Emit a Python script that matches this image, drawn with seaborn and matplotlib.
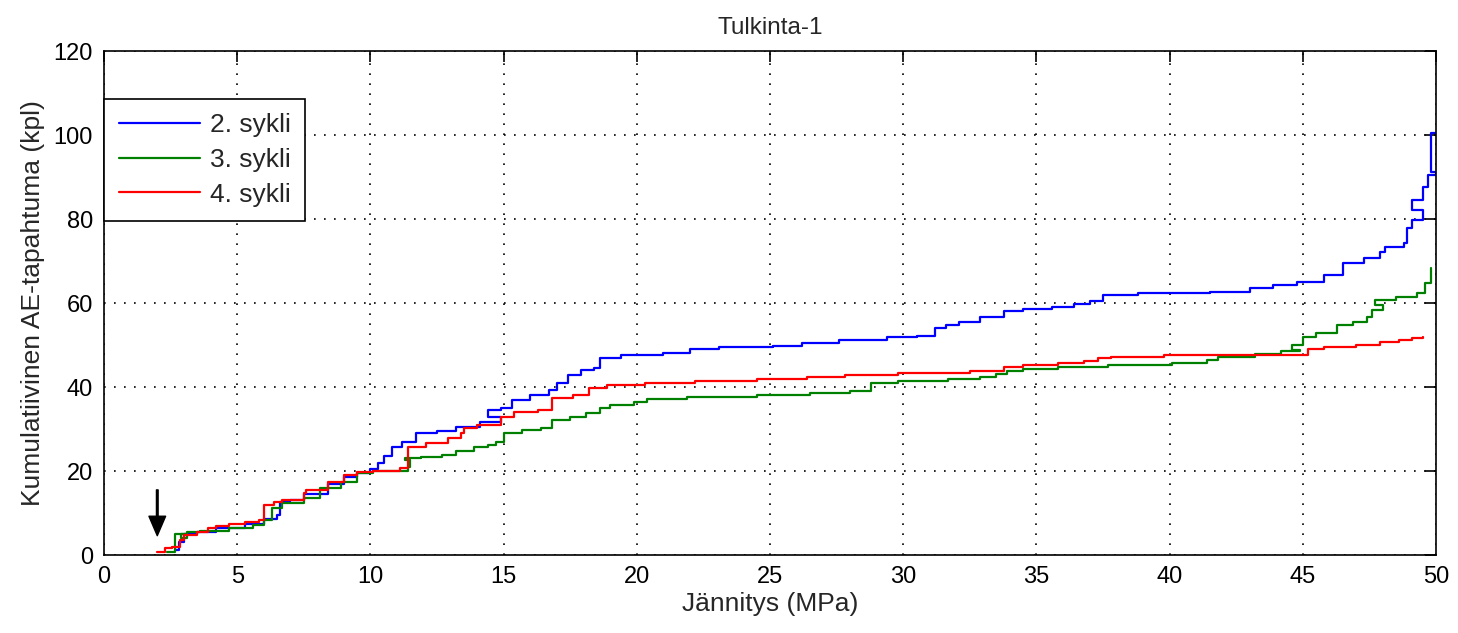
import numpy as np
import pandas as pd
import matplotlib
matplotlib.use("Agg")
import matplotlib.pyplot as plt
import seaborn as sns

# --- Data (stress MPa, cumulative AE count) ---
series_names = ["2. sykli", "3. sykli", "4. sykli"]
series_colors = ["#0000ff", "#008000", "#ff0000"]

sykli2_x = [2.67, 2.8, 3.0, 3.5, 4.2, 5.3, 6.0, 6.5, 6.6, 7.0, 7.5, 8.4, 9.0, 9.5, 10.0,
            10.3, 10.5, 10.8, 11.2, 11.7, 12.5, 13.2, 14.1, 14.9, 14.4, 14.4, 14.9, 15.3,
            16.0, 16.7, 17.0, 17.4, 17.9, 18.4, 18.6, 19.4, 21.0, 22.0, 23.1, 25.1, 26.2,
            27.6, 29.4, 30.5, 31.2, 31.6, 32.1, 32.9, 33.8, 34.5, 35.6, 36.4, 37.0, 37.5,
            38.8, 41.5, 43.0, 43.9, 44.8, 45.8, 46.5, 47.3, 47.9, 48.1, 48.8, 48.9, 49.1,
            49.5, 49.1, 49.5, 49.7, 50.0, 49.8, 49.8, 50.0]
sykli2_y = [1.2, 3.0, 5.0, 5.5, 6.4, 7.4, 8.6, 9.5, 12.6, 13.1, 14.5, 17.0, 18.5, 19.5, 20.5,
            22.0, 23.5, 25.7, 27.0, 29.0, 29.5, 30.5, 31.7, 32.9, 33.3, 34.5, 35.0, 37.0,
            38.0, 39.3, 41.0, 42.9, 44.0, 44.5, 47.0, 47.6, 48.1, 49.0, 49.5, 49.8, 50.5,
            51.2, 51.9, 52.1, 54.0, 54.8, 55.5, 56.7, 58.1, 58.5, 59.0, 59.8, 60.5, 62.0,
            62.4, 62.6, 63.5, 64.3, 65.0, 66.7, 69.5, 70.7, 72.1, 73.3, 74.3, 77.9, 79.8,
            82.1, 84.5, 87.6, 90.5, 91.2, 91.7, 100.5, 100.5]

sykli3_x = [2.36, 2.67, 2.67, 3.1, 2.9, 3.1, 3.6, 4.7, 5.6, 6.0, 6.3, 6.7, 7.5, 8.1, 8.9,
            9.5, 10.1, 11.4, 11.5, 11.3, 11.9, 12.7, 13.2, 13.9, 14.4, 14.7, 15.0, 15.7,
            16.4, 16.8, 17.5, 18.1, 18.6, 19.0, 19.9, 20.4, 21.9, 24.5, 26.5, 28.0, 28.8,
            29.8, 31.7, 32.9, 33.5, 33.9, 34.5, 35.8, 37.7, 40.1, 41.4, 41.8, 43.2, 44.2,
            44.9, 44.6, 45.0, 45.5, 46.3, 46.9, 47.4, 47.6, 48.0, 47.7, 48.5, 49.3, 49.6,
            49.8, 49.8]
sykli3_y = [0.7, 2.4, 5.0, 5.0, 4.0, 5.5, 5.7, 6.4, 7.1, 8.3, 11.2, 12.4, 13.6, 16.0, 17.4,
            19.5, 20.0, 21.0, 22.7, 23.0, 23.3, 23.8, 24.8, 25.7, 26.2, 26.9, 29.0, 29.8,
            30.2, 32.1, 32.9, 33.7, 35.0, 35.7, 36.4, 37.1, 37.6, 38.1, 38.6, 39.0, 40.9,
            41.4, 41.9, 42.4, 43.1, 43.8, 44.3, 44.8, 45.2, 45.7, 46.4, 47.1, 47.9, 48.6,
            48.8, 50.0, 51.9, 52.8, 54.8, 55.5, 56.7, 58.3, 59.5, 60.7, 61.4, 62.4, 64.8,
            65.0, 68.3]

sykli4_x = [2.0, 2.3, 2.55, 2.85, 3.0, 3.5, 3.9, 4.2, 4.7, 5.3, 5.8, 6.0, 6.4, 6.7, 7.5,
            7.6, 8.4, 9.0, 9.5, 10.1, 11.1, 11.4, 12.1, 12.9, 13.4, 13.5, 14.0, 14.9, 15.4,
            16.3, 16.8, 17.6, 18.2, 18.9, 20.3, 22.2, 24.5, 26.4, 27.8, 29.8, 32.5, 33.8,
            34.5, 35.8, 36.8, 37.3, 37.8, 39.8, 45.2, 45.2, 45.8, 47.0, 47.9, 48.6, 49.1,
            49.5]
sykli4_y = [0.7, 1.7, 1.9, 3.6, 4.8, 5.5, 6.4, 6.9, 7.4, 7.9, 8.3, 11.9, 12.6, 13.1, 14.8,
            15.5, 17.4, 19.0, 19.8, 20.0, 20.7, 25.7, 26.7, 27.9, 29.0, 30.2, 31.0, 32.9,
            34.0, 34.5, 37.3, 38.1, 39.8, 40.5, 40.9, 41.4, 41.9, 42.4, 42.9, 43.3, 43.8,
            44.8, 45.2, 45.7, 46.2, 46.9, 47.1, 47.6, 48.1, 49.0, 49.5, 50.0, 50.7, 51.2,
            51.7, 51.9]

x_ticks = [0, 5, 10, 15, 20, 25, 30, 35, 40, 45, 50]
y_ticks = [0, 20, 40, 60, 80, 100, 120]
arrow_x = 2.0
arrow_from = 15.5
arrow_to = 4.6

# long format frame, keeping the drawing order (stress is not monotonic)
frames = []
for name, xs, ys in zip(series_names,
                        [sykli2_x, sykli3_x, sykli4_x],
                        [sykli2_y, sykli3_y, sykli4_y]):
    frames.append(pd.DataFrame({"x": xs, "y": ys, "sykli": name}))
df = pd.concat(frames, ignore_index=True)

sns.set_style("white")
plt.rcParams["font.family"] = ["Liberation Sans", "DejaVu Sans"]
fs = 17      # tick labels / title
fs_lab = 19  # axis labels and legend (wider in the reference)

fig = plt.figure(figsize=(14.58, 6.33), dpi=100)
ax = fig.add_axes([104 / 1458, 1 - 555 / 633, 1332 / 1458, 504 / 633])

sns.lineplot(data=df, x="x", y="y", hue="sykli", palette=series_colors,
             hue_order=series_names, sort=False, estimator=None,
             drawstyle="steps-post", linewidth=1.6, ax=ax)

ax.annotate("", xy=(arrow_x, arrow_to), xytext=(arrow_x, arrow_from),
            arrowprops=dict(facecolor="black", edgecolor="black", width=1.2,
                            headwidth=12, headlength=14, shrink=0))

ax.set_xlim(0, 50)
ax.set_ylim(0, 120)
ax.set_xticks(x_ticks)
ax.set_yticks(y_ticks)
ax.grid(True, color="black", linestyle=(0, (1, 5)), linewidth=1.2)
ax.tick_params(direction="in", top=True, right=True, length=8, width=1.2,
               labelsize=fs, colors="black", pad=8)
for sp in ax.spines.values():
    sp.set_color("black")
    sp.set_linewidth(1.2)

ax.set_title("Tulkinta-1", fontsize=fs + 0.5, pad=12)
ax.set_xlabel("Jännitys (MPa)", fontsize=fs_lab, labelpad=3)
ax.set_ylabel("Kumulatiivinen AE-tapahtuma (kpl)", fontsize=fs_lab, labelpad=6)

handles, labels = ax.get_legend_handles_labels()
leg = ax.legend(handles, labels, loc="upper left", bbox_to_anchor=(0, 0.905),
                borderaxespad=0, fontsize=fs_lab, fancybox=False, framealpha=1,
                edgecolor="black", handlelength=3.1, handletextpad=0.35,
                labelspacing=0.4, borderpad=0.55)
leg.get_frame().set_linewidth(1.2)

fig.savefig("out.png", dpi=100)
plt.close(fig)
